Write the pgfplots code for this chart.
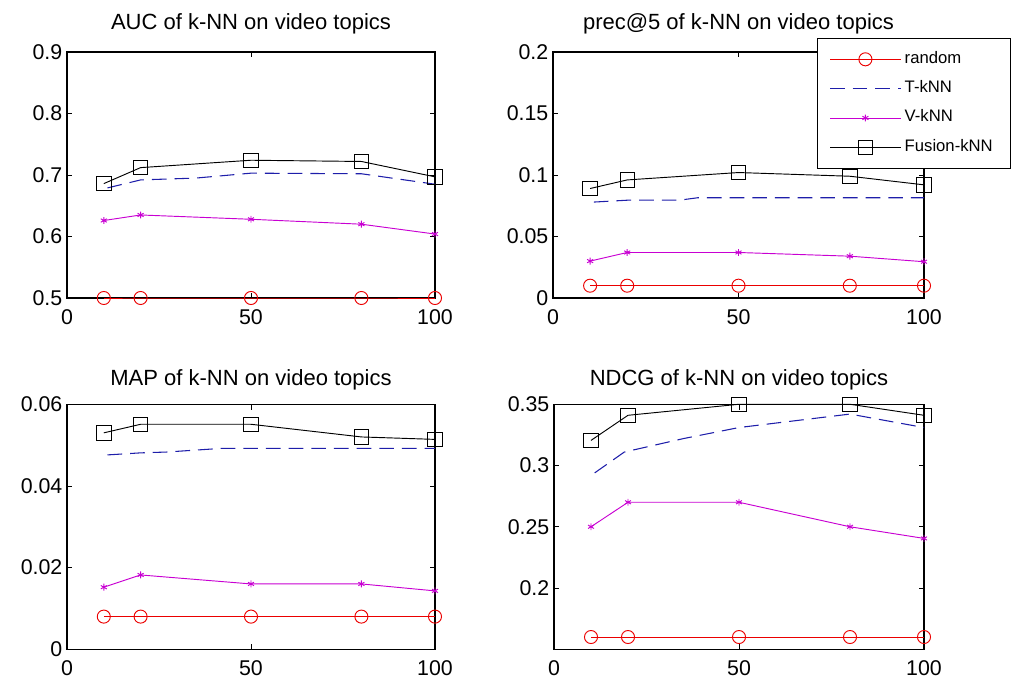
\documentclass[border=0pt]{standalone}
\usepackage{fontspec}
\setmainfont{Liberation Sans}
\usepackage{pgfplots}
\pgfplotsset{compat=1.18}
\definecolor{cRand}{RGB}{235,0,0}
\definecolor{cT}{RGB}{30,30,170}
\definecolor{cV}{RGB}{200,0,210}
\pgfplotsset{
  every axis/.append style={
    scale only axis,
    xmin=0, xmax=100,
    xtick={0,50,100},
    tick align=inside,
    major tick length=4pt,
    axis line style={line width=0.8pt},
    every tick/.style={black, line width=0.6pt},
    /pgf/number format/assume math mode=true,
    tick label style={font=\fontsize{16}{18}\selectfont},
    xticklabel style={yshift=-5pt},
    title style={font=\fontsize{16.5}{19}\selectfont, at={(0.5,1)}, anchor=base, yshift=11pt},
    scaled y ticks=false,
    clip=false,
  },
  rnd/.style={cRand, line width=0.7pt, mark=o, mark size=4.9pt, mark options={solid, line width=0.7pt}},
  tk/.style={cT, line width=0.8pt, dash pattern=on 11pt off 6pt},
  vk/.style={cV, line width=0.7pt, mark=asterisk, mark size=2.6pt, mark options={solid}},
  fk/.style={black, line width=0.7pt, mark=square, mark size=5.4pt, mark options={solid, line width=0.7pt}},
}
\newcommand{\lt}[1]{\makebox[68pt][l]{#1}}
\begin{document}
\begin{tikzpicture}
\useasboundingbox (0,0) rectangle (763.5pt,512.25pt);
% Panel 1: AUC
\begin{axis}[at={(50.25pt,288.75pt)}, anchor=south west, width=276pt, height=184.5pt,
  ymin=0.5, ymax=0.9, ytick={0.5,0.6,0.7,0.8,0.9}, yticklabels={0.5,0.6,0.7,0.8,0.9},
  title={AUC of k-NN on video topics}]
\addplot[rnd] coordinates {(10,0.5) (20,0.5) (50,0.5) (80,0.5) (100,0.5)};
\addplot[tk] coordinates {(11,0.679) (20,0.692) (35,0.695) (50,0.703) (80,0.702) (100,0.685)};
\addplot[vk] coordinates {(10,0.626) (20,0.635) (50,0.628) (80,0.620) (100,0.604)};
\addplot[fk] coordinates {(10,0.686) (20,0.712) (50,0.724) (80,0.722) (100,0.697)};
\end{axis}
% Panel 2: prec@5
\begin{axis}[at={(414.75pt,288.75pt)}, anchor=south west, width=278.25pt, height=184.5pt,
  ymin=0, ymax=0.2, ytick={0,0.05,0.1,0.15,0.2}, yticklabels={0,0.05,0.1,0.15,0.2},
  title={prec@5 of k-NN on video topics},
  legend style={at={(0.7116,1.057)}, anchor=north west, font=\fontsize{12.5}{15}\selectfont,
    draw=black, line width=0.8pt, fill=white, inner xsep=9pt, inner ysep=7pt,
    row sep=4.8pt, nodes={inner sep=2.6pt, text height=9pt, text depth=3pt}},
  legend cell align=left,
  legend image code/.code={\draw[mark repeat=2,mark phase=2,#1] plot coordinates {(0pt,0pt) (26.5pt,0pt) (53pt,0pt)};}]
\addplot[rnd] coordinates {(10,0.01) (20,0.01) (50,0.01) (80,0.01) (100,0.01)};
\addplot[tk] coordinates {(11,0.078) (20,0.0795) (34,0.0795) (39,0.0815) (50,0.0815) (80,0.0815) (100,0.0815)};
\addplot[vk] coordinates {(10,0.030) (20,0.037) (50,0.037) (80,0.034) (100,0.0295)};
\addplot[fk] coordinates {(10,0.089) (20,0.096) (50,0.102) (80,0.099) (100,0.092)};
\legend{\lt{random},\lt{T-kNN},\lt{V-kNN},\lt{Fusion-kNN}}
\end{axis}
% Panel 3: MAP
\begin{axis}[at={(50.25pt,25.3pt)}, anchor=south west, width=276pt, height=183.75pt,
  ymin=0, ymax=0.06, ytick={0,0.02,0.04,0.06}, yticklabels={0,0.02,0.04,0.06},
  title style={yshift=-3pt},
  title={MAP of k-NN on video topics}]
\addplot[rnd] coordinates {(10,0.008) (20,0.008) (50,0.008) (80,0.008) (100,0.008)};
\addplot[tk] coordinates {(11,0.0476) (20,0.0481) (27,0.0483) (42,0.0492) (50,0.0492) (80,0.0492) (100,0.0492)};
\addplot[vk] coordinates {(10,0.0152) (20,0.0182) (50,0.016) (80,0.016) (100,0.0143)};
\addplot[fk] coordinates {(10,0.053) (20,0.0551) (50,0.0551) (80,0.052) (100,0.0514)};
\end{axis}
% Panel 4: NDCG
\begin{axis}[at={(415.5pt,25.3pt)}, anchor=south west, width=277.5pt, height=183.75pt,
  ymin=0.15, ymax=0.35, ytick={0.2,0.25,0.3,0.35}, yticklabels={0.2,0.25,0.3,0.35},
  title style={yshift=-3pt},
  title={NDCG of k-NN on video topics}]
\addplot[rnd] coordinates {(10,0.16) (20,0.16) (50,0.16) (80,0.16) (100,0.16)};
\addplot[tk] coordinates {(11,0.294) (19,0.311) (35,0.322) (50,0.331) (80,0.342) (100,0.331)};
\addplot[vk] coordinates {(10,0.25) (20,0.27) (50,0.27) (80,0.25) (100,0.2405)};
\addplot[fk] coordinates {(10,0.3205) (20,0.341) (50,0.35) (80,0.35) (100,0.341)};
\end{axis}
\end{tikzpicture}
\end{document}
